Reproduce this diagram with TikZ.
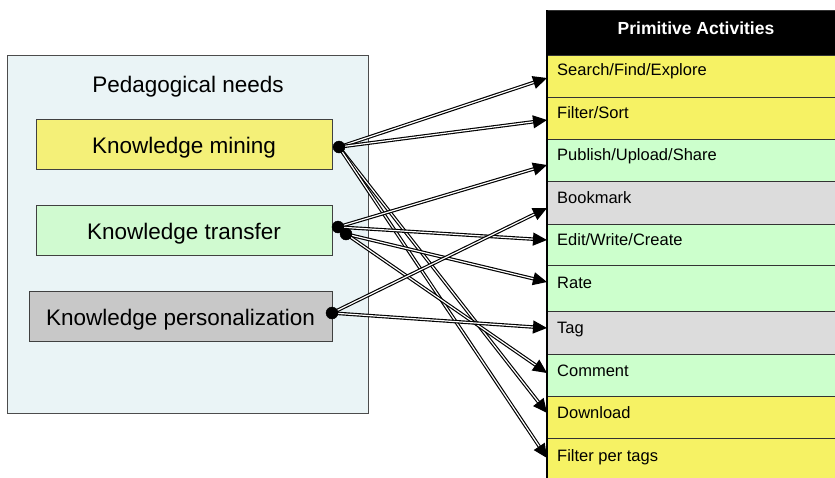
\documentclass[tikz,border=0pt]{standalone}
\usepackage{fontspec}
\setmainfont{Liberation Sans}
\usetikzlibrary{arrows.meta}
\definecolor{panelbg}{HTML}{EAF4F6}
\definecolor{ylw}{HTML}{F4F078}
\definecolor{grn}{HTML}{D0FAD0}
\definecolor{gry}{HTML}{C8C8C8}
\definecolor{tylw}{HTML}{F6F264}
\definecolor{tgrn}{HTML}{CCFFCC}
\definecolor{tgry}{HTML}{DCDCDC}
\begin{document}
\begin{tikzpicture}[x=1pt,y=-1pt,
  needbox/.style={draw=black!75, line width=0.8pt, minimum height=50pt, inner sep=0pt, font=\fontsize{22.5}{27}\selectfont},
  rowbox/.style={draw=black!80, line width=0.8pt, minimum width=320pt, minimum height=#1, anchor=north west, inner sep=0pt},
  rowtxt/.style={anchor=base west, font=\fontsize{16.5}{20}\selectfont, inner sep=0pt},
  link/.style={draw=black, double=white, double distance=1.2pt, line width=1.15pt, -{Triangle[length=14pt,width=13pt]}},
  dotnode/.style={circle, fill=black, draw=black, minimum size=12pt, inner sep=0pt}]
\useasboundingbox (0,0) rectangle (835,477);
\clip (0,0) rectangle (835,477);
% left panel
\node[draw=black!70, fill=panelbg, line width=0.8pt, minimum width=361pt, minimum height=358pt, anchor=north west, inner sep=0pt] (panel) at (7,55) {};
\node[font=\fontsize{22.5}{27}\selectfont, inner sep=0pt] (title) at (188,87) {Pedagogical needs};
\node[needbox, fill=ylw, minimum width=296pt] (mining) at (184,144) {};
\node[font=\fontsize{22.5}{27}\selectfont, anchor=base, inner sep=0pt] (miningtxt) at (184,153) {Knowledge mining};
\node[needbox, fill=grn, minimum width=296pt] (transfer) at (184,230) {};
\node[font=\fontsize{22.5}{27}\selectfont, anchor=base, inner sep=0pt] (transfertxt) at (184,239) {Knowledge transfer};
\node[needbox, fill=gry, minimum width=303pt] (perso) at (180.5,316) {};
\node[font=\fontsize{22.5}{27}\selectfont, anchor=base, inner sep=0pt] (persotxt) at (180.5,325) {Knowledge personalization};
% table
\node[rowbox=45pt, fill=black] (head) at (547,10) {};
\node[font=\fontsize{17.5}{21}\selectfont\bfseries, text=white, inner sep=0pt] (headtxt) at (696,28) {Primitive Activities};
\node[rowbox=42pt, fill=tylw] (rSearch) at (547,55) {};
\node[rowbox=42pt, fill=tylw] (rFilter) at (547,97) {};
\node[rowbox=42pt, fill=tgrn] (rPublish) at (547,139) {};
\node[rowbox=43pt, fill=tgry] (rBook) at (547,181) {};
\node[rowbox=41pt, fill=tgrn] (rEdit) at (547,224) {};
\node[rowbox=46pt, fill=tgrn] (rRate) at (547,265) {};
\node[rowbox=43pt, fill=tgry] (rTag) at (547,311) {};
\node[rowbox=42pt, fill=tgrn] (rComment) at (547,354) {};
\node[rowbox=42pt, fill=tylw] (rDown) at (547,396) {};
\node[rowbox=42pt, fill=tylw] (rFpt) at (547,438) {};
\draw[line width=2pt] (head.north west) -- (rFpt.south west);
\node[rowtxt] (tSearch) at (557,75) {Search/Find/Explore};
\node[rowtxt] (tFilter) at (557,118) {Filter/Sort};
\node[rowtxt] (tPublish) at (557,160) {Publish/Upload/Share};
\node[rowtxt] (tBook) at (557,203) {Bookmark};
\node[rowtxt] (tEdit) at (557,245) {Edit/Write/Create};
\node[rowtxt] (tRate) at (557,288) {Rate};
\node[rowtxt] (tTag) at (557,333) {Tag};
\node[rowtxt] (tComment) at (557,376) {Comment};
\node[rowtxt] (tDown) at (557,418) {Download};
\node[rowtxt] (tFpt) at (557,461) {Filter per tags};
% arrow targets
\coordinate (aSearch) at (547,78);
\coordinate (aFilter) at (547,120);
\coordinate (aPublish) at (547,165);
\coordinate (aBook) at (547,208);
\coordinate (aEdit) at (547,240);
\coordinate (aRate) at (547,282);
\coordinate (aTag) at (547,328);
\coordinate (aComment) at (547,373);
\coordinate (aDown) at (547,413);
\coordinate (aFpt) at (547,458);
% dot positions
\coordinate (pm) at (339,147);
\coordinate (pt1) at (338,227);
\coordinate (pt2) at (346,234);
\coordinate (pp) at (332,313);
% links
\draw[link] (pm) -- (aSearch);
\draw[link] (pm) -- (aFilter);
\draw[link] (pm) -- (aDown);
\draw[link] (pm) -- (aFpt);
\draw[link] (pt1) -- (aPublish);
\draw[link] (pt1) -- (aEdit);
\draw[link] (pt2) -- (aRate);
\draw[link] (pt2) -- (aComment);
\draw[link] (pp) -- (aBook);
\draw[link] (pp) -- (aTag);
% dots
\node[dotnode] (dm) at (pm) {};
\node[dotnode] (dt1) at (pt1) {};
\node[dotnode] (dt2) at (pt2) {};
\node[dotnode] (dp) at (pp) {};
\end{tikzpicture}
\end{document}
